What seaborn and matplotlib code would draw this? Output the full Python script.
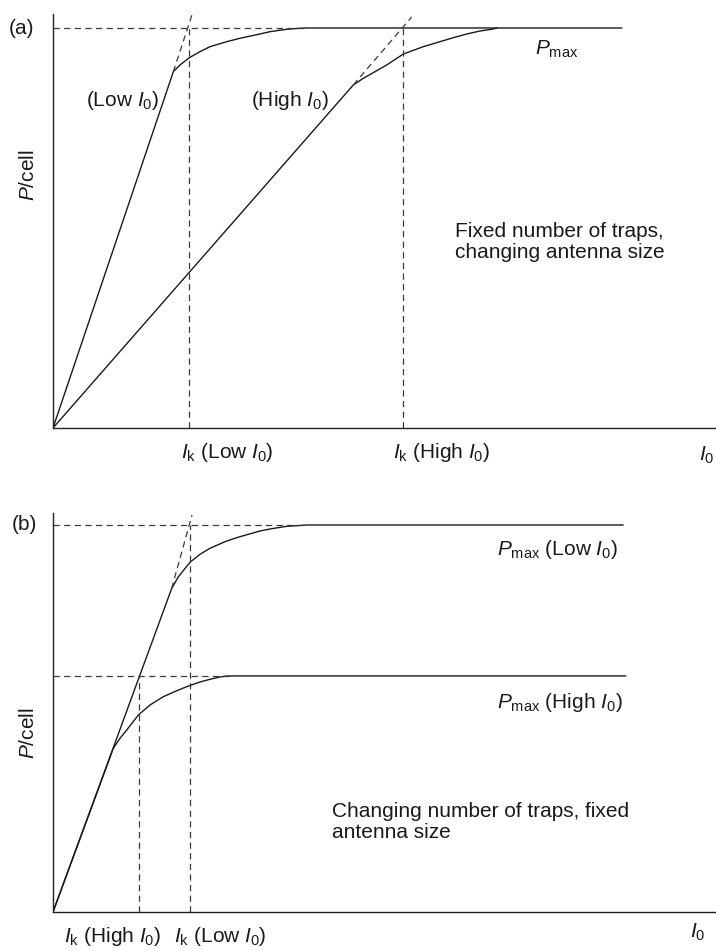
import matplotlib
matplotlib.use("Agg")
import matplotlib.pyplot as plt
import seaborn as sns
import pandas as pd

# ---- values (x = I0, arbitrary units; y = P/cell, Pmax = 1) ----
# panel (a): fixed number of traps, changing antenna size
a_low_x = [0, 1.815, 1.915, 2.056, 2.217, 2.368, 2.620, 2.820, 3.122, 3.273, 3.525, 3.725, 3.826, 8.58]
a_low_y = [0, 0.8908, 0.9075, 0.9258, 0.9408, 0.9533, 0.9658, 0.9743, 0.985, 0.9908, 0.9968, 0.9993, 1.0, 1.0]
a_high_x = [0, 4.529, 4.680, 4.831, 5.033, 5.284, 5.585, 5.837, 6.038, 6.240, 6.440, 6.617, 6.70]
a_high_y = [0, 0.8575, 0.8742, 0.8883, 0.9075, 0.935, 0.9533, 0.9658, 0.9758, 0.985, 0.9925, 0.9968, 1.0]
a_tan_low = ([1.815, 2.11], [0.8908, 1.04])
a_tan_high = ([4.529, 5.41], [0.8575, 1.0275])
a_ik = [2.05, 5.28]
a_pmax = 1.0

# panel (b): changing number of traps, fixed antenna size
b_low_x = [0, 1.790, 1.890, 2.066, 2.217, 2.368, 2.620, 2.820, 3.122, 3.273, 3.525, 3.676, 3.826, 8.60]
b_low_y = [0, 0.836, 0.866, 0.9036, 0.9243, 0.9398, 0.9587, 0.9698, 0.9845, 0.9897, 0.9966, 0.9982, 1.0, 1.0]
b_high_x = [0, 0.910, 1.011, 1.112, 1.287, 1.463, 1.664, 1.866, 2.056, 2.217, 2.368, 2.519, 2.620, 2.70, 8.64]
b_high_y = [0, 0.4230, 0.4488, 0.4703, 0.5090, 0.5349, 0.5563, 0.5718, 0.5848, 0.5943, 0.6013, 0.6072,
            0.6098, 0.61, 0.61]
b_tan_low = ([1.790, 2.097], [0.836, 1.026])
b_ik = [1.30, 2.07]          # high I0, low I0
b_pmax = [1.0, 0.61]         # low I0, high I0

sns.set_theme(style="white")
plt.rcParams["font.family"] = ["Liberation Sans", "DejaVu Sans"]
plt.rcParams["mathtext.fontset"] = "custom"
plt.rcParams["mathtext.rm"] = "Liberation Sans"
plt.rcParams["mathtext.it"] = "Liberation Sans:italic"

FS = 15
TXT = "#1a1a1a"
solid = dict(color="#1a1a1a", lw=1.0)
dash = dict(color="#3a3a3a", lw=0.9, ls=(0, (5, 3.5)))

fig = plt.figure(figsize=(7.16, 9.51), dpi=100)
ax_a = fig.add_axes([53 / 716, 1 - 428 / 951, 1 - 53 / 716, 414 / 951])
ax_b = fig.add_axes([53 / 716, 1 - 912 / 951, 1 - 53 / 716, 399 / 951])


def curve(ax, x, y):
    df = pd.DataFrame({"x": x, "y": y})
    sns.lineplot(data=df, x="x", y="y", ax=ax, sort=False, estimator=None, **solid)


def style(ax, ytop):
    ax.set_xlim(0, 10)
    ax.set_ylim(0, ytop)
    ax.set_xticks([])
    ax.set_yticks([])
    ax.set_xlabel("")
    ax.set_ylabel(r"$P$/cell", fontsize=FS, color=TXT)
    for s in ["top", "right"]:
        ax.spines[s].set_visible(False)
    for s in ["left", "bottom"]:
        ax.spines[s].set_color("#222222")
        ax.spines[s].set_linewidth(1.0)


def label(ax, x, y, s, ha="left"):
    ax.text(x, y, s, fontsize=FS, ha=ha, va="baseline", color=TXT, clip_on=False)


# ---------------- panel (a) ----------------
curve(ax_a, a_low_x, a_low_y)
curve(ax_a, a_high_x, a_high_y)
ax_a.plot(*a_tan_low, **dash)
ax_a.plot(*a_tan_high, **dash)
ax_a.plot([0, a_low_x[12]], [a_pmax, a_pmax], **dash)
for ik in a_ik:
    ax_a.plot([ik, ik], [0, a_pmax], **dash)
style(ax_a, 1.035)
ax_a.yaxis.set_label_coords(-0.022, 0.611)

label(ax_a, 1.056, 0.805, r"(Low $I_0$)", ha="center")
label(ax_a, 3.575, 0.805, r"(High $I_0$)", ha="center")
label(ax_a, 7.27, 0.9325, r"$P_\mathrm{max}$")
ax_a.text(6.06, 0.425, "Fixed number of traps,\nchanging antenna size",
          fontsize=FS, ha="left", va="baseline", color=TXT, linespacing=1.15)
label(ax_a, 1.93, -0.075, r"$I_\mathrm{k}$ (Low $I_0$)")
label(ax_a, 5.13, -0.075, r"$I_\mathrm{k}$ (High $I_0$)")
label(ax_a, 9.86, -0.0825, r"$I_0$", ha="center")
fig.text(21 / 716, 1 - 29 / 951, "(a)", fontsize=FS, ha="center", va="center", color=TXT)

# ---------------- panel (b) ----------------
curve(ax_b, b_low_x, b_low_y)
curve(ax_b, b_high_x, b_high_y)
ax_b.plot(*b_tan_low, **dash)
ax_b.plot([0, b_low_x[12]], [b_pmax[0], b_pmax[0]], **dash)
ax_b.plot([0, b_high_x[13]], [b_pmax[1], b_pmax[1]], **dash)
ax_b.plot([b_ik[0], b_ik[0]], [0, b_pmax[1]], **dash)
ax_b.plot([b_ik[1], b_ik[1]], [0, b_pmax[0]], **dash)
style(ax_b, 1.031)
ax_b.yaxis.set_label_coords(-0.022, 0.449)

label(ax_b, 6.70, 0.9225, r"$P_\mathrm{max}$ (Low $I_0$)")
label(ax_b, 6.70, 0.527, r"$P_\mathrm{max}$ (High $I_0$)")
ax_b.text(4.21, 0.191, "Changing number of traps, fixed\nantenna size",
          fontsize=FS, ha="left", va="baseline", color=TXT, linespacing=1.15)
label(ax_b, 0.166, -0.0775, r"$I_\mathrm{k}$ (High $I_0$)")
label(ax_b, 1.825, -0.0775, r"$I_\mathrm{k}$ (Low $I_0$)")
label(ax_b, 9.73, -0.067, r"$I_0$", ha="center")
fig.text(24 / 716, 1 - 525 / 951, "(b)", fontsize=FS, ha="center", va="center", color=TXT)

fig.savefig("out.png", dpi=100)
